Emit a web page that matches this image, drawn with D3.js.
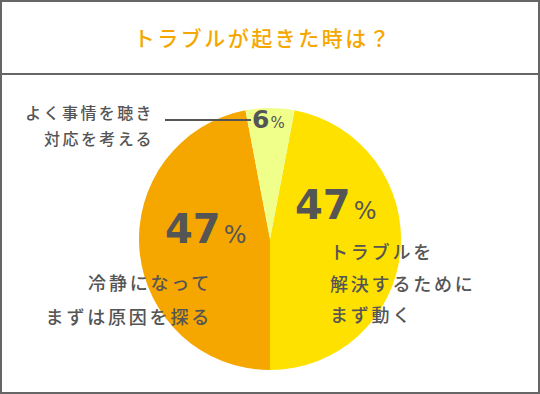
<!DOCTYPE html>
<html lang="ja">
<head>
<meta charset="UTF-8">
<script src="https://d3js.org/d3.v7.min.js"></script>
<style>
  body { margin: 0; background: #fff; }
  text { font-family: "Noto Sans CJK JP", sans-serif; }
</style>
</head>
<body>
<svg width="540" height="394" id="chart"></svg>
<script>
// data
const title = "トラブルが起きた時は？";
const categories = ["トラブルを解決するためにまず動く", "冷静になってまずは原因を探る", "よく事情を聴き対応を考える"];
const values = [47, 47, 6];
const colors = ["#FFE100", "#F5A700", "#EFFF8A"];
const labelLines = [
    ["トラブルを", "解決するために", "まず動く"],
    ["冷静になって", "まずは原因を探る"],
    ["よく事情を聴き", "対応を考える"]
];

const svg = d3.select("#chart");
const textColor = "#555";

// frame
svg.append("rect")
    .attr("x", 1).attr("y", 1)
    .attr("width", 538).attr("height", 392)
    .attr("fill", "none")
    .attr("stroke", "#666").attr("stroke-width", 2);
svg.append("line")
    .attr("x1", 0).attr("x2", 540)
    .attr("y1", 74).attr("y2", 74)
    .attr("stroke", "#666").attr("stroke-width", 2);

svg.append("text")
    .attr("x", 263).attr("y", 46)
    .attr("text-anchor", "middle")
    .attr("fill", "#F5A700")
    .attr("style", "font-size: 21px; font-weight: 500; letter-spacing: 2.5px;")
    .text(title);

// pie
const cx = 270, cy = 239, r = 131;
const offset = values[2] / 200 * Math.PI * 2;
const pie = d3.pie().sort(null).startAngle(offset).endAngle(offset + Math.PI * 2);
const arc = d3.arc().innerRadius(0).outerRadius(r);
const arcs = pie(values);

const g = svg.append("g").attr("transform", `translate(${cx},${cy})`);
g.selectAll("path")
    .data(arcs)
    .enter().append("path")
    .attr("d", arc)
    .attr("fill", (d, i) => colors[i]);

// percentage labels
const pctPos = [[295, 219], [165, 243]];
arcs.slice(0, 2).forEach((d, i) => {
    const t = svg.append("text")
        .attr("x", pctPos[i][0]).attr("y", pctPos[i][1])
        .attr("fill", textColor)
        .attr("font-weight", "bold");
    t.append("tspan").attr("style", "font-size: 40px; font-family: 'DejaVu Sans', sans-serif;").text(values[i]);
    t.append("tspan").attr("dx", 3).attr("style", "font-size: 24px; font-weight: normal; font-family: 'DejaVu Sans', sans-serif;").text("%");
});

// small slice label
const t6 = svg.append("text")
    .attr("x", 252).attr("y", 128)
    .attr("fill", textColor)
    .attr("font-weight", "bold");
t6.append("tspan").attr("style", "font-size: 25px; font-family: 'DejaVu Sans', sans-serif;").text(values[2]);
t6.append("tspan").attr("dx", 1).attr("style", "font-size: 15px; font-weight: normal; font-family: 'DejaVu Sans', sans-serif;").text("%");

svg.append("line")
    .attr("x1", 165).attr("x2", 251)
    .attr("y1", 120).attr("y2", 120)
    .attr("stroke", textColor).attr("stroke-width", 2);

// category labels
const labelPos = [
    { x: 330, y: 259, anchor: "start", lh: 31.5, size: 18, ls: 2.8 },
    { x: 212, y: 290, anchor: "end", lh: 34, size: 18, ls: 2.8 },
    { x: 154, y: 119, anchor: "end", lh: 26, size: 16, ls: 2.4 }
];
labelLines.forEach((lines, i) => {
    const p = labelPos[i];
    lines.forEach((s, j) => {
        svg.append("text")
            .attr("x", p.x).attr("y", p.y + j * p.lh)
            .attr("text-anchor", p.anchor)
            .attr("fill", textColor)
            .attr("style", `font-size: ${p.size}px; font-weight: 500; letter-spacing: ${p.ls}px;`)
            .text(s);
    });
});
</script>
</body>
</html>
